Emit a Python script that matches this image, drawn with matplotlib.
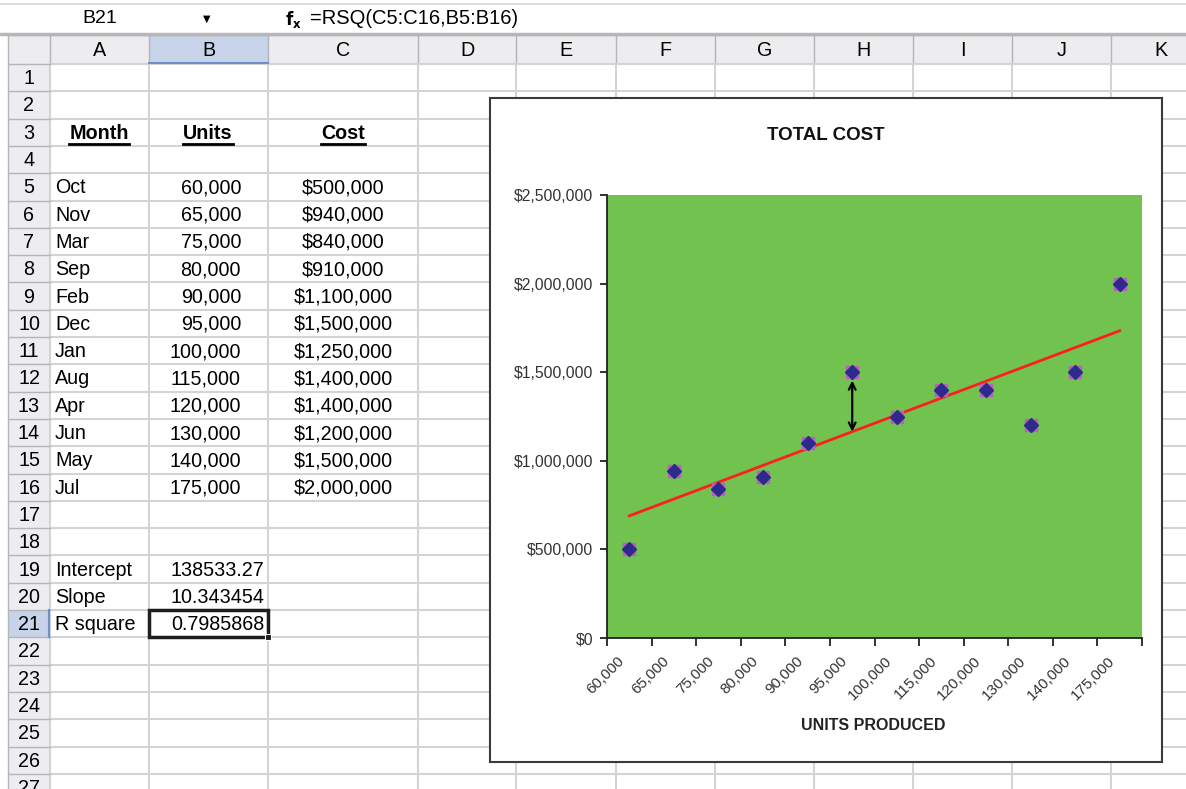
import numpy as np
import matplotlib
matplotlib.use('Agg')
import matplotlib.pyplot as plt
from matplotlib.patches import Rectangle
from matplotlib.transforms import ScaledTranslation

plt.rcParams['font.family'] = ['Liberation Sans', 'DejaVu Sans']

# sheet data
months = ['Oct', 'Nov', 'Mar', 'Sep', 'Feb', 'Dec', 'Jan', 'Aug', 'Apr', 'Jun', 'May', 'Jul']
units = [60000, 65000, 75000, 80000, 90000, 95000, 100000, 115000, 120000, 130000, 140000, 175000]
costs = [500000, 940000, 840000, 910000, 1100000, 1500000, 1250000, 1400000, 1400000, 1200000, 1500000, 2000000]
stat_labels = ['Intercept', 'Slope', 'R square']
stat_values = ['138533.27', '10.343454', '0.7985868']
col_letters = ['A', 'B', 'C', 'D', 'E', 'F', 'G', 'H', 'I', 'J', 'K']

W, H = 1186, 789
fig = plt.figure(figsize=(W / 100, H / 100), dpi=100)
bg = fig.add_axes([0, 0, 1, 1])
bg.set_xlim(0, W)
bg.set_ylim(H, 0)
bg.axis('off')

col_edges = [8, 50, 149, 268, 418, 516, 616, 715, 814, 913, 1012, 1111, 1210]
head_top, head_bot = 35, 64
row_h = 27.3
n_rows = 27


def row_top(r):
    return head_bot + (r - 1) * row_h


def row_mid(r):
    return row_top(r) + row_h / 2


grid_c = '#D4D4D4'
head_c = '#EDEDF0'
head_line = '#B4B4BC'
sel_c = '#C6D3E8'
cell_fs = 14.2

# formula bar
bg.plot([0, W], [4, 4], color='#DCDCDC', lw=1.5)
bg.plot([0, W], [33.5, 33.5], color='#B8B8B8', lw=2.5)
bg.text(100, 18, 'B21', fontsize=14, ha='center', va='center')
bg.text(207, 19, '\u25BC', fontsize=7, ha='center', va='center', family='DejaVu Sans')
bg.text(293, 19, r'$\mathbf{f_x}$', fontsize=12, ha='center', va='center')
bg.text(310, 18, '=RSQ(C5:C16,B5:B16)', fontsize=14.5, ha='left', va='center')

# headers
bg.add_patch(Rectangle((col_edges[0], head_top), W - col_edges[0], head_bot - head_top,
                       fc=head_c, ec='none'))
bg.add_patch(Rectangle((col_edges[0], head_bot), col_edges[1] - col_edges[0], H - head_bot,
                       fc=head_c, ec='none'))
bg.add_patch(Rectangle((col_edges[2], head_top), col_edges[3] - col_edges[2], head_bot - head_top,
                       fc=sel_c, ec='none'))
bg.plot([col_edges[2], col_edges[3]], [head_bot - 1, head_bot - 1], color='#6F8FC8', lw=1.5)
bg.add_patch(Rectangle((col_edges[0], row_top(21)), col_edges[1] - col_edges[0], row_h,
                       fc=sel_c, ec='none'))
bg.plot([col_edges[1] - 1, col_edges[1] - 1], [row_top(21), row_top(22)], color='#6F8FC8', lw=1.5)

# gridlines
for xe in col_edges[1:]:
    bg.plot([xe, xe], [head_bot, H], color=grid_c, lw=1.5, zorder=1)
    bg.plot([xe, xe], [head_top, head_bot], color=head_line, lw=1, zorder=1)
for r in range(1, n_rows + 1):
    y = row_top(r)
    bg.plot([col_edges[1], W], [y, y], color=grid_c, lw=1.5, zorder=1)
    bg.plot([col_edges[0], col_edges[1]], [y, y], color=head_line, lw=1, zorder=1)
bg.plot([col_edges[0], col_edges[0]], [head_top, H], color=head_line, lw=1)
bg.plot([col_edges[0], W], [head_top, head_top], color=head_line, lw=1)

for i, letter in enumerate(col_letters):
    bg.text((col_edges[i + 1] + col_edges[i + 2]) / 2, (head_top + head_bot) / 2 + 1, letter,
            fontsize=cell_fs, ha='center', va='center')
for r in range(1, n_rows + 1):
    bg.text(29, row_mid(r) + 1, str(r), fontsize=cell_fs, ha='center', va='center')

# table header
headers = [('Month', 99), ('Units', 208), ('Cost', 343)]
head_texts = []
for label, xc in headers:
    t = bg.text(xc, row_mid(3) + 1, label, fontsize=cell_fs, fontweight='bold', ha='center', va='center')
    head_texts.append(t)

for i in range(len(months)):
    r = 5 + i
    bg.text(55, row_mid(r) + 1, months[i], fontsize=cell_fs, ha='left', va='center')
    bg.text(241, row_mid(r) + 1, f'{units[i]:,}', fontsize=cell_fs, ha='right', va='center')
    bg.text(343, row_mid(r) + 1, f'${costs[i]:,}', fontsize=cell_fs, ha='center', va='center')

for i in range(len(stat_labels)):
    r = 19 + i
    bg.text(55, row_mid(r) + 1, stat_labels[i], fontsize=cell_fs, ha='left', va='center')
    bg.text(264, row_mid(r) + 1, stat_values[i], fontsize=cell_fs, ha='right', va='center')

# selected cell B21
bg.add_patch(Rectangle((col_edges[2], row_top(21)), col_edges[3] - col_edges[2], row_h,
                       fc='none', ec='#1E1E1E', lw=2.5, zorder=5))
bg.add_patch(Rectangle((col_edges[3] - 3, row_top(22) - 3), 6, 6, fc='#1E1E1E', ec='white',
                       lw=0.8, zorder=6))

# chart area
bg.add_patch(Rectangle((490, 98), 672, 664, fc='white', ec='#3A3A3A', lw=1.5, zorder=10))

# chart
px_l, px_r, px_t, px_b = 607, 1142, 195, 638
ax = fig.add_axes([px_l / W, 1 - px_b / H, (px_r - px_l) / W, (px_b - px_t) / H])
ax.set_facecolor('#72C250')
x = np.arange(1, len(units) + 1)

ax.plot(x, costs, ls='none', marker='s', ms=8, color='#B760BC', zorder=3)
ax.plot(x, costs, ls='none', marker='D', ms=7, color='#2D2A8C', zorder=4)

# linear trendline over category positions
k, b = np.polyfit(x, costs, 1)
ax.plot([x[0], x[-1]], [k * x[0] + b, k * x[-1] + b], color='#FF1E1E', lw=2, zorder=2)

# residual arrow for the 95,000 point
j = units.index(95000)
ax.annotate('', xy=(x[j], k * x[j] + b), xytext=(x[j], costs[j]),
            arrowprops=dict(arrowstyle='<->', color='black', lw=1.6,
                            shrinkA=6, shrinkB=0, mutation_scale=12), zorder=5)

ax.set_xlim(0.5, len(units) + 0.5)
ax.set_ylim(0, 2500000)
ax.set_yticks(np.arange(0, 2500001, 500000))
ax.yaxis.set_major_formatter(plt.FuncFormatter(lambda v, p: f'${v:,.0f}'))
ax.set_xticks(np.arange(0.5, len(units) + 1, 1))
ax.set_xticklabels([])
ax.set_xticks(x, minor=True)
ax.set_xticklabels([f'{u:,}' for u in units], minor=True)
ax.tick_params(axis='x', which='minor', length=0, pad=4)
ax.tick_params(axis='x', which='major', length=6, width=1.3, color='#222222')
ax.tick_params(axis='y', length=5, width=1.3, color='#222222', labelsize=11.3,
               labelcolor='#333333', pad=5)

offset = ScaledTranslation(-7 / 100, -15 / 100, fig.dpi_scale_trans)
for lab in ax.get_xticklabels(minor=True):
    lab.set_rotation(45)
    lab.set_ha('right')
    lab.set_va('center')
    lab.set_rotation_mode('anchor')
    lab.set_fontsize(11)
    lab.set_color('#333333')
    lab.set_transform(lab.get_transform() + offset)

for side in ['top', 'right']:
    ax.spines[side].set_visible(False)
for side in ['left', 'bottom']:
    ax.spines[side].set_color('#222222')
    ax.spines[side].set_linewidth(1.3)

ax.set_title('TOTAL COST', fontsize=13.5, fontweight='bold', x=(826 - px_l) / (px_r - px_l),
             y=(px_b - 136) / (px_b - px_t), va='center', color='#111111', pad=0)
ax.set_xlabel('UNITS PRODUCED', fontsize=11.5, fontweight='bold', color='#222222')
ax.xaxis.set_label_coords((873 - px_l) / (px_r - px_l), (px_b - 725) / (px_b - px_t))
ax.xaxis.label.set_va('center')

# underline the bold table headers
fig.canvas.draw()
renderer = fig.canvas.get_renderer()
for t in head_texts:
    bb = t.get_window_extent(renderer)
    yb = H - bb.y0 + 1
    bg.plot([bb.x0, bb.x1], [yb, yb], color='black', lw=2)

fig.savefig('out.png', dpi=100)
